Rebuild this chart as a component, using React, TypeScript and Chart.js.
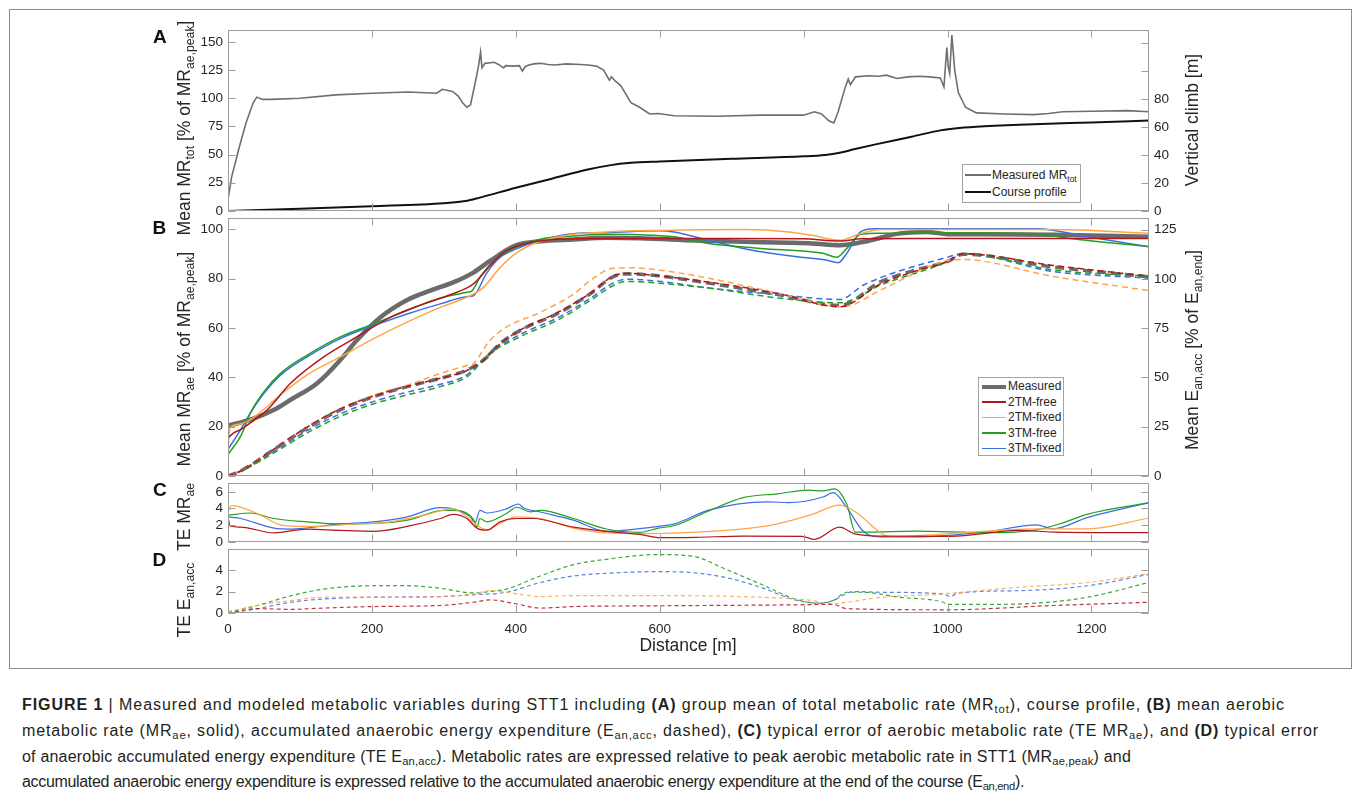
import React, { useEffect, useLayoutEffect, useRef } from 'react';
import { Chart, registerables } from 'chart.js';

Chart.register(...registerables);

const FONT = '"Liberation Sans", Arial, Helvetica, sans-serif';
const TEXT = '#262626';
const FRAME = '#9d9d9d';

const GRAY = '#6b6b6b';
const RED = '#b3161c';
const ORANGE = '#ffa545';
const GREEN = '#21a021';
const BLUE = '#3b6de6';

// ---------- shared x axis ----------
const xTicks = [0, 200, 400, 600, 800, 1000, 1200];
const xMax = 1280;

// ---------- Panel A ----------
const aLeftTicks = [0, 25, 50, 75, 100, 125, 150];
const aRightTicks = [0, 20, 40, 60, 80, 100, 120];
const aRightLabelMax = 80;
const aMrTotDist = [0, 5, 15, 25, 35, 40, 48, 60, 100, 150, 200, 250, 290, 298, 312, 320, 326, 332, 337, 343, 348, 351, 353, 357, 370, 376, 383, 386, 395, 405, 409, 413, 416, 425, 434, 445, 455, 470, 490, 500, 512, 522, 530, 533, 537, 546, 560, 572, 586, 598, 620, 680, 740, 800, 815, 825, 835, 842, 848, 857, 862, 865, 872, 890, 905, 915, 930, 945, 960, 975, 990, 995, 999, 1001, 1003, 1006, 1010, 1015, 1025, 1040, 1080, 1120, 1140, 1160, 1200, 1250, 1280];
const aMrTotVal = [10, 30, 55, 78, 96, 101, 99, 99, 100, 103, 104.5, 105.5, 104.5, 108, 106, 102, 96, 92, 94, 112, 128, 141, 127, 131, 132, 130, 127, 129, 128.5, 129, 124, 128, 129, 130.5, 131, 130, 129.5, 130.5, 130, 129.5, 128.5, 125, 116, 119, 116, 111, 96, 92, 86, 86.5, 84.5, 84, 85, 85, 88, 86, 80, 78, 88, 108, 117, 112, 119, 120, 119.5, 120.5, 117.5, 119, 119.5, 119, 118, 110, 145, 128, 122, 156, 125, 105, 92, 87, 86, 85.5, 86.5, 88, 88.5, 89, 88];
const aCourseDist = [0, 100, 200, 300, 330, 350, 400, 450, 500, 530, 560, 600, 700, 800, 830, 850, 870, 900, 950, 990, 1010, 1040, 1100, 1200, 1280];
const aCourseVal = [0, 1.5, 3.3, 5.5, 7, 9.5, 16.5, 23, 29.5, 32.5, 34.3, 35.3, 37.2, 39, 40, 41.5, 44, 47.5, 53, 57.5, 58.8, 60, 61.5, 63.2, 64.5];

// ---------- Panel B (solid: MR_ae, left axis) ----------
const bLeftTicks = [0, 20, 40, 60, 80, 100];
const bRightTicks = [0, 25, 50, 75, 100, 125];
const bMeasD = [0, 31, 64, 87, 124, 156, 179, 212, 249, 281, 313, 341, 364, 400, 434, 480, 526, 573, 650, 716, 780, 812, 850, 884, 932, 970, 1004, 1052, 1147, 1280];
const bMeasV = [20.4, 22.8, 26.8, 30.9, 37.6, 47, 55, 64.4, 71.4, 75.2, 78.5, 82.5, 87.2, 93.5, 95.2, 95.9, 96.6, 96.4, 95.5, 95, 94.6, 94.3, 93.6, 95, 98.3, 99, 98, 98, 97.8, 97];
const bRedD = [0, 8, 17.6, 31, 54.5, 87, 133, 179, 226, 272, 318, 341, 364, 383, 410, 457, 526, 600, 700, 800, 850, 880, 950, 1050, 1150, 1280];
const bRedV = [15.4, 17.5, 18.8, 21.5, 26.8, 37.6, 48.3, 56.4, 64.4, 69.8, 74.5, 77.9, 85.2, 90.6, 94, 96, 96.3, 96.3, 96.3, 96.2, 95.3, 96.2, 96.3, 96.3, 96.3, 96.3];
const bOrangeD = [0, 3, 15, 31, 73, 110, 156, 202.5, 249, 295, 336.6, 355, 378, 401, 434, 480, 526, 598, 716, 780, 812, 850, 879, 908, 1000, 1147, 1280];
const bOrangeV = [12, 19.5, 21, 22.8, 32.9, 41, 48.3, 55.7, 62.4, 68.4, 73.1, 76.5, 84.5, 90.5, 95.2, 98, 99, 99.6, 100, 99, 97.6, 95.6, 98.3, 100, 100, 100, 98.5];
const bGreenD = [0, 17.6, 31, 50, 73, 110, 156, 202.5, 249, 295, 332, 339, 350, 369, 400, 434, 480, 526, 598, 620, 668, 740, 827, 846, 860, 879, 908, 1004, 1124, 1171, 1280];
const bGreenV = [8.7, 16.1, 25.5, 34.2, 41.6, 49, 56.4, 61.7, 67.1, 72.2, 74.5, 75.1, 80.5, 87.2, 92.6, 96, 97.3, 98, 97.5, 97, 94.3, 92.3, 90.3, 88.7, 92.3, 98, 98.5, 98.7, 98.3, 96.3, 93];
const bBlueD = [0, 17.6, 31, 50, 73, 110, 156, 202.5, 249, 295, 332, 341, 360, 378, 400, 434, 480, 526, 598, 620, 668, 716, 788, 831, 848, 860, 879, 898, 1124, 1195, 1280];
const bBlueV = [10.7, 18.8, 25.5, 33.5, 40.9, 48.3, 55.7, 61, 65.7, 69.8, 72.7, 73.1, 82.5, 88.6, 92, 95.6, 98.3, 98.7, 99.5, 99, 95.6, 92.3, 89, 87.6, 86.5, 90.3, 99, 100.3, 100.3, 97, 93];

// ---------- Panel B (dashed: E_an,acc, right axis) ----------
const bMeasDashD = [0, 17.6, 64, 110, 156, 202.5, 249, 295, 332, 355, 378, 410, 457, 503, 535, 554, 598, 668, 764, 850, 908, 956, 1000, 1022, 1147, 1280];
const bMeasDashV = [0, 2.5, 13.4, 24.3, 33.5, 40.2, 45.3, 49.5, 53.7, 58.7, 67.1, 74.6, 82.2, 92.3, 101, 102.5, 101.5, 97.8, 92, 86.5, 98.7, 104.5, 108.8, 112.5, 106, 101];
const bRedDashD = [0, 17.6, 64, 110, 156, 202.5, 249, 295, 332, 355, 378, 410, 457, 503, 535, 554, 598, 668, 764, 850, 908, 956, 1000, 1022, 1147, 1280];
const bRedDashV = [0, 2.5, 13.6, 24.8, 34, 40.5, 45.5, 49.5, 53.5, 58.5, 67, 74.8, 82.7, 92.6, 101.3, 102.8, 101.5, 98.3, 92.6, 85.8, 97.6, 104, 108.8, 112.7, 106.8, 101.3];
const bOrangeDashD = [0, 17.6, 64, 110, 156, 202.5, 249, 295, 332, 341, 364, 387, 434, 480, 503, 535, 563, 598, 668, 764, 855, 908, 1004, 1020, 1147, 1280];
const bOrangeDashV = [0, 2.5, 13.4, 24.5, 34, 41, 46, 52, 56, 57, 68.7, 75.5, 83, 92.2, 99, 105.3, 105.6, 104.5, 100.3, 92.8, 85.8, 94.5, 109.5, 109.8, 101.2, 94];
const bGreenDashD = [0, 17.6, 64, 110, 156, 202.5, 249, 295, 332, 364, 410, 457, 503, 535, 554, 598, 668, 764, 850, 908, 1000, 1022, 1147, 1280];
const bGreenDashV = [0, 2.3, 11.7, 21.8, 30.2, 36.6, 41.1, 45.3, 50.3, 62, 71.3, 78.8, 88.9, 96.5, 98.7, 97.8, 95.3, 90.3, 87.8, 97, 108.7, 112.8, 104.5, 101.2];
const bBlueDashD = [0, 17.6, 64, 110, 156, 202.5, 249, 295, 332, 364, 410, 457, 503, 535, 554, 598, 668, 764, 850, 884, 1000, 1022, 1147, 1280];
const bBlueDashV = [0, 2.5, 12.5, 23, 31.5, 37.8, 42.5, 46.5, 51.3, 62.5, 72.5, 80, 90, 97.8, 99.8, 98.8, 95.3, 92, 89.5, 97, 111, 112.8, 103.7, 100.3];

// ---------- Panel C (TE MR_ae) ----------
const cTicks = [0, 2, 4, 6];
const cRedD = [0, 3, 17.6, 64, 110, 156, 202.5, 249, 295, 313, 332, 346, 360, 378, 401, 424, 480, 526, 572, 600, 650, 716, 798, 815, 850, 870, 908, 1004, 1099, 1147, 1280];
const cRedV = [3, 1.9, 1.77, 1.08, 1.54, 1.38, 1.27, 1.85, 2.8, 3.3, 2.8, 1.65, 1.4, 2.4, 2.8, 2.8, 1.77, 1.27, 0.9, 0.5, 0.55, 0.7, 0.67, 0.3, 1.76, 1.0, 0.7, 0.67, 1.37, 1.18, 1.1];
const cOrangeD = [0, 4.6, 40.7, 73, 110, 179, 226, 272, 313, 332, 346, 360, 378, 401, 434, 480, 526, 573, 692, 764, 812, 850, 870, 922, 1004, 1124, 1195, 1280];
const cOrangeV = [3.5, 4.35, 3.4, 2.04, 1.85, 2.15, 2.4, 3.2, 3.96, 3.0, 2.0, 1.46, 2.2, 3.0, 2.8, 1.65, 1.08, 1.0, 1.37, 2.16, 3.3, 4.4, 3.7, 0.6, 1.0, 1.57, 1.57, 2.86];
const cGreenD = [0, 31, 64, 110, 156, 202.5, 249, 300, 313, 341, 346, 350, 360, 387, 401, 420, 434, 480, 526, 572, 598, 621, 668, 716, 764, 807, 827, 843, 860, 872, 884, 956, 1052, 1124, 1156, 1195, 1280];
const cGreenV = [3.2, 3.46, 2.8, 2.4, 2.15, 2.2, 2.6, 3.77, 3.77, 2.7, 1.77, 2.8, 2.4, 3.4, 4.15, 3.6, 3.77, 2.8, 1.54, 1.15, 1.65, 1.96, 3.7, 5.3, 5.76, 6.2, 6.1, 6.35, 4.5, 1.18, 1.18, 1.3, 1.1, 1.45, 2.16, 3.33, 4.7];
const cBlueD = [0, 17.6, 64, 87, 156, 202.5, 249, 295, 313, 337, 343.5, 350, 360, 387, 403.6, 410.5, 434, 480, 526, 549, 598, 621, 668, 750, 779, 827, 841, 860, 884, 908, 956, 1052, 1124, 1147, 1195, 1280];
const cBlueV = [3.0, 2.8, 1.65, 1.54, 2.15, 2.4, 3.0, 4.1, 3.96, 3.0, 2.3, 3.77, 3.46, 3.96, 4.54, 4.08, 3.58, 2.6, 1.27, 1.38, 1.85, 2.16, 3.8, 4.8, 4.7, 5.37, 5.9, 4.1, 1.18, 0.6, 0.6, 1.18, 2.04, 1.57, 2.94, 4.7];

// ---------- Panel D (TE E_an,acc) ----------
const dTicks = [0, 2, 4];
const dGreenD = [0, 40.7, 87, 133, 202.5, 249, 295, 341, 364, 387, 434, 480, 526, 598, 645, 692, 740, 788, 822, 841, 860, 884, 932, 994, 1000, 1052, 1124, 1195, 1280];
const dGreenV = [0.1, 0.7, 1.6, 2.23, 2.54, 2.54, 2.3, 1.87, 2.0, 2.23, 3.45, 4.5, 5.0, 5.44, 5.3, 4.07, 2.7, 1.3, 0.9, 1.16, 1.93, 1.93, 1.47, 1.0, 0.8, 0.8, 0.92, 1.47, 2.84];
const dBlueD = [0, 40.7, 87, 133, 202.5, 295, 341, 387, 434, 480, 526, 598, 645, 692, 740, 788, 822, 841, 869, 908, 994, 1004, 1013, 1100, 1195, 1280];
const dBlueV = [0, 0.4, 1.0, 1.3, 1.47, 1.53, 1.7, 1.93, 2.84, 3.45, 3.7, 3.85, 3.76, 3.3, 2.4, 1.22, 0.92, 1.16, 2.0, 1.93, 1.77, 1.53, 1.84, 2.08, 2.54, 3.6];
const dOrangeD = [0, 40.7, 87, 133, 249, 341, 364, 387, 434, 480, 598, 764, 812, 836, 860, 908, 980, 1004, 1100, 1195, 1280];
const dOrangeV = [0.1, 0.7, 1.16, 1.47, 1.47, 1.77, 2.08, 1.93, 1.53, 1.62, 1.62, 1.4, 1.16, 0.86, 1.0, 1.47, 1.7, 1.84, 2.4, 2.84, 3.67];
const dRedD = [0, 40.7, 87, 133, 202.5, 295, 341, 364, 400, 434, 480, 598, 788, 841, 860, 1000, 1147, 1280];
const dRedV = [0, 0.4, 0.34, 0.46, 0.6, 0.7, 1.0, 1.22, 0.86, 0.46, 0.6, 0.67, 0.76, 0.8, 0.4, 0.3, 0.7, 1.0];

// ---------- legend labels ----------
const bLegendNames = ['Measured', '2TM-free', '2TM-fixed', '3TM-free', '3TM-fixed'];
const bLegendColors = [GRAY, RED, ORANGE, GREEN, BLUE];

// ---------- helpers ----------
function lineDs(d: number[], v: number[], color: string, width: number, extra: any = {}) {
  return {
    data: d.map((x, i) => ({ x, y: v[i] })),
    borderColor: color,
    backgroundColor: color,
    borderWidth: width,
    pointRadius: 0,
    pointHoverRadius: 0,
    fill: false,
    cubicInterpolationMode: 'monotone',
    ...extra,
  };
}

const tickFont = { family: FONT, size: 13.5 };

function xScale(showLabels: boolean) {
  return {
    type: 'linear',
    min: 0,
    max: xMax,
    afterBuildTicks: (s: any) => {
      s.ticks = xTicks.map((value) => ({ value }));
    },
    afterFit: (s: any) => {
      s.height = showLabels ? 30 : 0;
    },
    grid: { display: false, drawTicks: false },
    border: { display: false },
    ticks: {
      display: showLabels,
      padding: 8,
      color: TEXT,
      font: tickFont,
      maxRotation: 0,
      autoSkip: false,
      callback: (v: any) => String(v),
    },
  };
}

function yScale(position: string, max: number, ticks: number[], width: number, labelMax?: number) {
  return {
    type: 'linear',
    position,
    min: 0,
    max,
    afterBuildTicks: (s: any) => {
      s.ticks = ticks.map((value) => ({ value }));
    },
    afterFit: (s: any) => {
      s.width = width;
    },
    grid: { display: false, drawTicks: false },
    border: { display: false },
    ticks: {
      padding: 5,
      color: TEXT,
      font: tickFont,
      autoSkip: false,
      callback: (v: any) => (labelMax !== undefined && v > labelMax ? '' : String(v)),
    },
  };
}

const framePlugin = {
  id: 'frame',
  afterDatasetsDraw(chart: any) {
    const { ctx, chartArea: a, scales } = chart;
    const L = Math.round(a.left) + 0.5;
    const R = Math.round(a.right) - 0.5;
    const T = Math.round(a.top) + 0.5;
    const B = Math.round(a.bottom) - 0.5;
    const tl = 7;
    ctx.save();
    ctx.strokeStyle = FRAME;
    ctx.lineWidth = 1;
    ctx.strokeRect(L, T, R - L, B - T);
    ctx.beginPath();
    for (const t of scales.x.ticks) {
      const px = Math.round(scales.x.getPixelForValue(t.value)) + 0.5;
      ctx.moveTo(px, B);
      ctx.lineTo(px, B - tl);
      ctx.moveTo(px, T);
      ctx.lineTo(px, T + tl);
    }
    for (const t of scales.y.ticks) {
      const py = Math.round(scales.y.getPixelForValue(t.value)) + 0.5;
      ctx.moveTo(L, py);
      ctx.lineTo(L + tl, py);
      if (!scales.y2) {
        ctx.moveTo(R, py);
        ctx.lineTo(R - tl, py);
      }
    }
    if (scales.y2) {
      for (const t of scales.y2.ticks) {
        const py = Math.round(scales.y2.getPixelForValue(t.value)) + 0.5;
        ctx.moveTo(R, py);
        ctx.lineTo(R - tl, py);
      }
    }
    ctx.stroke();
    ctx.restore();
  },
};

function baseOptions(scales: any, rightPad: number, bottomPad: number) {
  return {
    responsive: false,
    animation: false,
    devicePixelRatio: 1,
    events: [],
    layout: { padding: { top: 12, bottom: bottomPad, left: 0, right: rightPad } },
    plugins: { legend: { display: false }, tooltip: { enabled: false } },
    scales,
  };
}

const LEFT_W = 228;
const RIGHT_W = 1360 - 1149;

function configA() {
  return {
    type: 'line',
    data: {
      datasets: [
        lineDs(aMrTotDist, aMrTotVal, '#6f6f6f', 1.6, { cubicInterpolationMode: 'default', tension: 0 }),
        lineDs(aCourseDist, aCourseVal, '#111111', 2, { yAxisID: 'y2' }),
      ],
    },
    options: baseOptions(
      {
        x: xScale(false),
        y: yScale('left', 160.5, aLeftTicks, LEFT_W),
        y2: yScale('right', 129.1, aRightTicks, RIGHT_W, aRightLabelMax),
      },
      0,
      12
    ),
    plugins: [framePlugin],
  };
}

function configB() {
  const dash = { yAxisID: 'y2', borderDash: [6, 4] };
  return {
    type: 'line',
    data: {
      datasets: [
        lineDs(bRedD, bRedV, RED, 1.5, { order: 1 }),
        lineDs(bOrangeD, bOrangeV, ORANGE, 1.5, { order: 1 }),
        lineDs(bGreenD, bGreenV, GREEN, 1.5, { order: 1 }),
        lineDs(bBlueD, bBlueV, BLUE, 1.5, { order: 1 }),
        lineDs(bMeasD, bMeasV, GRAY, 4.5, { order: 5 }),
        lineDs(bRedDashD, bRedDashV, RED, 1.5, { ...dash, order: 1 }),
        lineDs(bOrangeDashD, bOrangeDashV, ORANGE, 1.5, { ...dash, order: 1 }),
        lineDs(bGreenDashD, bGreenDashV, GREEN, 1.5, { ...dash, order: 1 }),
        lineDs(bBlueDashD, bBlueDashV, BLUE, 1.5, { ...dash, order: 1 }),
        lineDs(bMeasDashD, bMeasDashV, GRAY, 3.5, { yAxisID: 'y2', borderDash: [9, 5], order: 5 }),
      ],
    },
    options: baseOptions(
      {
        x: xScale(false),
        y: yScale('left', 104.6, bLeftTicks, LEFT_W),
        y2: yScale('right', 130.8, bRightTicks, RIGHT_W),
      },
      0,
      12
    ),
    plugins: [framePlugin],
  };
}

function configC() {
  return {
    type: 'line',
    data: {
      datasets: [
        lineDs(cRedD, cRedV, RED, 1.2),
        lineDs(cOrangeD, cOrangeV, ORANGE, 1.2),
        lineDs(cGreenD, cGreenV, GREEN, 1.2),
        lineDs(cBlueD, cBlueV, BLUE, 1.2),
      ],
    },
    options: baseOptions({ x: xScale(false), y: yScale('left', 7.04, cTicks, LEFT_W) }, RIGHT_W, 12),
    plugins: [framePlugin],
  };
}

function configD() {
  const dash = { borderDash: [4, 3] };
  return {
    type: 'line',
    data: {
      datasets: [
        lineDs(dRedD, dRedV, 'rgba(179,22,28,0.85)', 1.2, dash),
        lineDs(dOrangeD, dOrangeV, 'rgba(255,165,69,0.85)', 1.2, dash),
        lineDs(dGreenD, dGreenV, 'rgba(33,160,33,0.9)', 1.2, dash),
        lineDs(dBlueD, dBlueV, 'rgba(59,109,230,0.85)', 1.2, dash),
      ],
    },
    options: baseOptions({ x: xScale(true), y: yScale('left', 5.95, dTicks, LEFT_W) }, RIGHT_W, 4),
    plugins: [framePlugin],
  };
}

function ChartPanel({ top, height, make }: { top: number; height: number; make: () => any }) {
  const ref = useRef<HTMLCanvasElement>(null);
  useEffect(() => {
    const chart = new Chart(ref.current as HTMLCanvasElement, make());
    return () => chart.destroy();
  }, []);
  return (
    <canvas
      ref={ref}
      width={1360}
      height={height}
      style={{ position: 'absolute', left: 0, top, width: 1360, height }}
    />
  );
}

const Sub = ({ children }: { children: any }) => (
  <span style={{ fontSize: '0.7em', verticalAlign: '-0.3em', lineHeight: 0 }}>{children}</span>
);

function VText({ cx, cy, children, size = 17.5 }: any) {
  return (
    <div
      style={{
        position: 'absolute',
        left: cx,
        top: cy,
        transform: 'translate(-50%, -50%) rotate(-90deg)',
        whiteSpace: 'nowrap',
        fontFamily: FONT,
        fontSize: size,
        color: TEXT,
        lineHeight: 1,
      }}
    >
      {children}
    </div>
  );
}

function Letter({ x, y, ch }: any) {
  return (
    <div style={{ position: 'absolute', left: x, top: y, fontFamily: FONT, fontWeight: 'bold', fontSize: 19, lineHeight: 1, color: '#111' }}>
      {ch}
    </div>
  );
}

// caption line: same font size everywhere, fitted to the reference line length via letter spacing
function FitLine({ top, width, children }: any) {
  const ref = useRef<HTMLDivElement>(null);
  useLayoutEffect(() => {
    const el = ref.current;
    if (!el) return;
    el.style.letterSpacing = '0px';
    const w = el.getBoundingClientRect().width;
    const n = (el.textContent || '').length;
    if (w > 0 && n > 1) {
      const ls = Math.max(-1, Math.min(1, (width - w) / n));
      el.style.letterSpacing = `${ls}px`;
    }
  }, []);
  return (
    <div
      ref={ref}
      style={{
        position: 'absolute',
        left: 22,
        top,
        whiteSpace: 'nowrap',
        fontFamily: FONT,
        fontSize: 16,
        lineHeight: '20px',
        color: '#231f20',
      }}
    >
      {children}
    </div>
  );
}

function LegendA() {
  const rows = [
    { color: '#6f6f6f', w: 1.6, label: <>Measured MR<Sub>tot</Sub></> },
    { color: '#111', w: 2, label: <>Course profile</> },
  ];
  return (
    <div style={{ position: 'absolute', left: 962, top: 164, width: 117, height: 37, border: '1px solid #a3a3a3', background: '#fff' }}>
      {rows.map((r, i) => (
        <div key={i} style={{ position: 'absolute', left: 0, top: 2 + i * 17, height: 16, width: 117 }}>
          <div style={{ position: 'absolute', left: 2, top: 8 - r.w / 2, width: 26, height: r.w, background: r.color }} />
          <div style={{ position: 'absolute', left: 29, top: 0, fontFamily: FONT, fontSize: 12, lineHeight: '16px', color: TEXT, whiteSpace: 'nowrap' }}>
            {r.label}
          </div>
        </div>
      ))}
    </div>
  );
}

function LegendB() {
  return (
    <div style={{ position: 'absolute', left: 978, top: 377, width: 84, height: 77, border: '1px solid #a3a3a3', background: '#fff' }}>
      {bLegendNames.map((name, i) => {
        const w = i === 0 ? 4 : 1.6;
        return (
          <div key={name} style={{ position: 'absolute', left: 0, top: 1 + i * 15.5, height: 15, width: 84 }}>
            <div style={{ position: 'absolute', left: 3, top: 7.5 - w / 2, width: 24, height: w, background: bLegendColors[i] }} />
            <div style={{ position: 'absolute', left: 29, top: 0, fontFamily: FONT, fontSize: 12, lineHeight: '15px', color: TEXT, whiteSpace: 'nowrap' }}>
              {name}
            </div>
          </div>
        );
      })}
    </div>
  );
}

export default function App() {
  return (
    <div style={{ position: 'fixed', left: 0, top: 0, width: 1360, height: 798, background: '#fff', overflow: 'hidden' }}>
      <div style={{ position: 'absolute', left: 9, top: 9, width: 1341, height: 658, border: '1px solid #8a8a8a' }} />

      <ChartPanel top={17} height={207} make={configA} />
      <ChartPanel top={205} height={284} make={configB} />
      <ChartPanel top={470} height={85} make={configC} />
      <ChartPanel top={536} height={111} make={configD} />

      <Letter x={153} y={26.5} ch="A" />
      <Letter x={152.5} y={217.5} ch="B" />
      <Letter x={153} y={479.5} ch="C" />
      <Letter x={152.5} y={549.5} ch="D" />

      <VText cx={185} cy={128}>
        Mean MR<Sub>tot</Sub> [% of MR<Sub>ae,peak</Sub>]
      </VText>
      <VText cx={1193} cy={120}>Vertical climb [m]</VText>
      <VText cx={185} cy={359}>
        Mean MR<Sub>ae</Sub> [% of MR<Sub>ae,peak</Sub>]
      </VText>
      <VText cx={1193} cy={350}>
        Mean E<Sub>an,acc</Sub> [% of E<Sub>an,end</Sub>]
      </VText>
      <VText cx={185} cy={517}>
        TE MR<Sub>ae</Sub>
      </VText>
      <VText cx={185} cy={600}>
        TE E<Sub>an,acc</Sub>
      </VText>

      <div style={{ position: 'absolute', left: 688, top: 646, transform: 'translate(-50%, -50%)', fontFamily: FONT, fontSize: 17.5, color: TEXT, whiteSpace: 'nowrap', lineHeight: 1 }}>
        Distance [m]
      </div>

      <LegendA />
      <LegendB />

      <FitLine top={695} width={1263}>
        <b>FIGURE 1</b> | Measured and modeled metabolic variables during STT1 including <b>(A)</b> group mean of total metabolic rate (MR<Sub>tot</Sub>), course profile, <b>(B)</b> mean aerobic
      </FitLine>
      <FitLine top={721} width={1297}>
        metabolic rate (MR<Sub>ae</Sub>, solid), accumulated anaerobic energy expenditure (E<Sub>an,acc</Sub>, dashed), <b>(C)</b> typical error of aerobic metabolic rate (TE MR<Sub>ae</Sub>), and <b>(D)</b> typical error
      </FitLine>
      <FitLine top={747} width={1109}>
        of anaerobic accumulated energy expenditure (TE E<Sub>an,acc</Sub>). Metabolic rates are expressed relative to peak aerobic metabolic rate in STT1 (MR<Sub>ae,peak</Sub>) and
      </FitLine>
      <FitLine top={772} width={1002}>
        accumulated anaerobic energy expenditure is expressed relative to the accumulated anaerobic energy expenditure at the end of the course (E<Sub>an,end</Sub>).
      </FitLine>
    </div>
  );
}
